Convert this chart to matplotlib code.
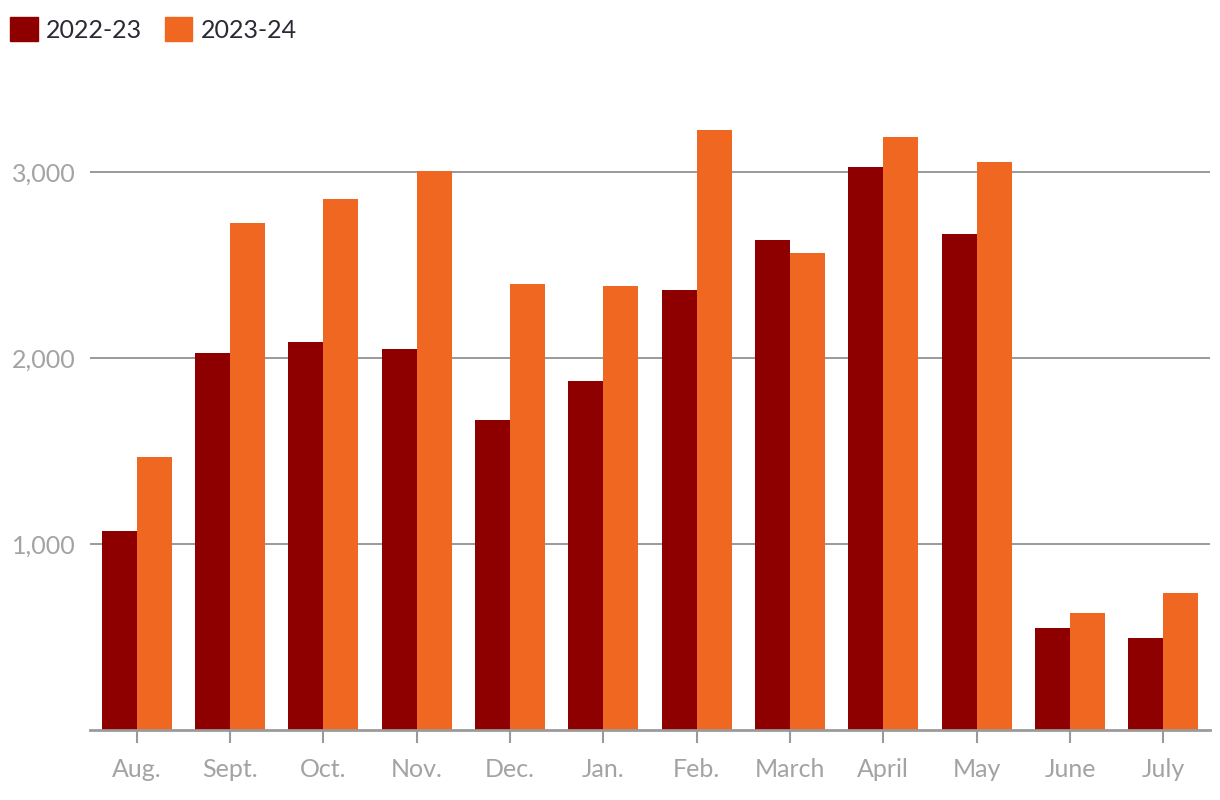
import matplotlib.pyplot as plt
import numpy as np
from matplotlib.patches import Patch
from matplotlib.ticker import FuncFormatter

plt.rcParams['font.family'] = ['Lato', 'DejaVu Sans']

months = ['Aug.', 'Sept.', 'Oct.', 'Nov.', 'Dec.', 'Jan.', 'Feb.', 'March',
          'April', 'May', 'June', 'July']
fy2223 = [1070, 2027, 2086, 2048, 1667, 1876, 2366, 2634, 3027, 2667, 548, 495]
fy2324 = [1468, 2726, 2855, 3005, 2398, 2387, 3226, 2565, 3188, 3054, 629, 737]
series_names = ['2022-23', '2023-24']
colors = ['#8e0000', '#f06722']

fig = plt.figure(figsize=(12.2, 8), dpi=100)
ax = fig.add_axes([90 / 1220, 70 / 800, 1120 / 1220, 651 / 800])

x = np.arange(len(months))
w = 0.375
ax.bar(x - w / 2, fy2223, w, color=colors[0], zorder=3)
ax.bar(x + w / 2, fy2324, w, color=colors[1], zorder=3)

ax.set_xlim(-0.5, len(months) - 0.5)
ax.set_ylim(0, 3500)
ax.set_yticks([1000, 2000, 3000])
ax.yaxis.set_major_formatter(FuncFormatter(lambda v, p: f'{int(v):,}'))
ax.set_xticks(x)
ax.set_xticklabels(months)

ax.grid(axis='y', color='#9a9a9a', linewidth=1.4, zorder=0)
for s in ['top', 'right', 'left']:
    ax.spines[s].set_visible(False)
ax.spines['bottom'].set_color('#9a9a9a')
ax.spines['bottom'].set_linewidth(2)
ax.spines['bottom'].set_zorder(4)

ax.tick_params(axis='x', colors='#9a9a9a', length=9, width=1.5,
               labelsize=18, pad=11, labelcolor='#a3a3a3')
ax.tick_params(axis='y', length=0, labelsize=18, pad=10, labelcolor='#a3a3a3')

handles = [Patch(color=c, label=n) for c, n in zip(colors, series_names)]
fig.legend(handles=handles, loc='upper left', bbox_to_anchor=(10 / 1220, 1 - 17 / 800),
           ncol=2, frameon=False, fontsize=18, handlelength=1.1,
           handleheight=1.1, handletextpad=0.35, columnspacing=0.9,
           borderpad=0, borderaxespad=0, labelcolor='#2a2a35')

fig.savefig('out.png', dpi=100)
